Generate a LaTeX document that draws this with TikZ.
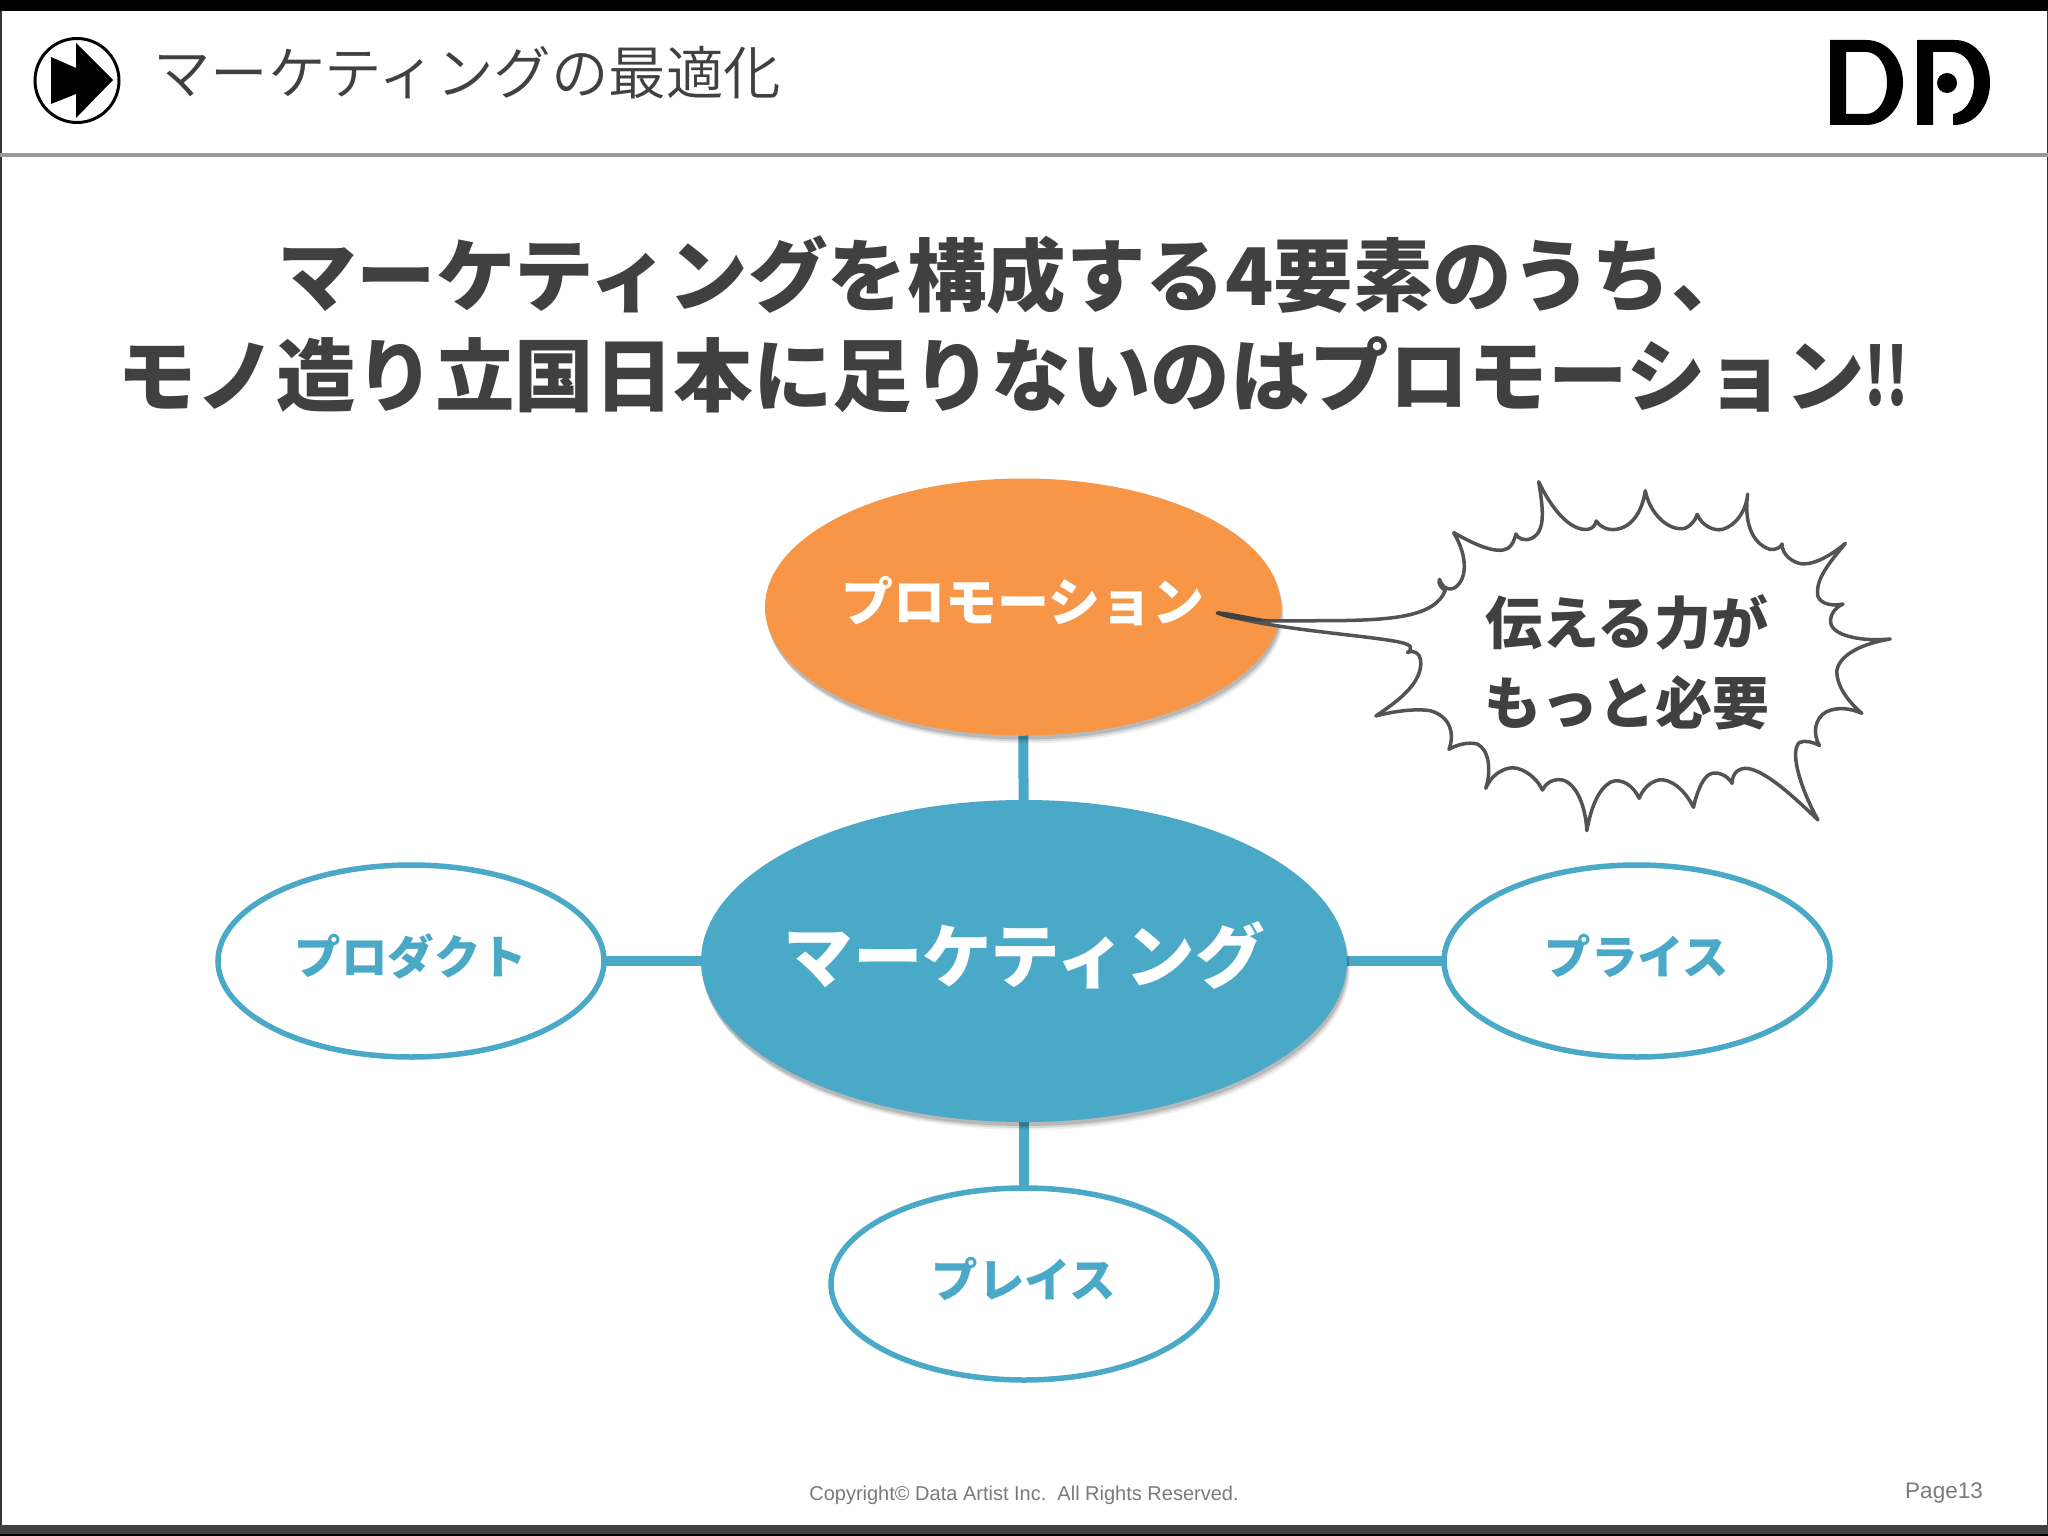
\documentclass[tikz,border=0pt]{standalone}
\usepackage{fontspec}
\setmainfont{Noto Sans CJK JP}
\newfontfamily\thinjp{Noto Sans CJK JP DemiLight}
\newfontfamily\latinf{Liberation Sans}
\usetikzlibrary{shapes.geometric,shadows,backgrounds}
\definecolor{inkc}{HTML}{404040}
\definecolor{teal1}{HTML}{4BA9C8}
\definecolor{orange1}{HTML}{F79646}
\newcommand\szf[1]{\fontsize{#1}{#1}\selectfont}
\newcommand\lifted[2]{\makebox[0pt]{\raisebox{#1}{#2}}}
\tikzset{
  softshadow/.style={drop shadow={shadow xshift=3pt,shadow yshift=-8pt,opacity=.06,fill=black},
                     drop shadow={shadow xshift=2pt,shadow yshift=-6pt,opacity=.10,fill=black},
                     drop shadow={shadow xshift=1pt,shadow yshift=-4pt,opacity=.14,fill=black}},
  hub/.style={ellipse,inner sep=0,outer sep=0,text=white,font=\bfseries},
  leaf/.style={ellipse,draw=teal1,fill=white,line width=5.5pt,inner sep=0,outer sep=0,
     minimum width=386pt,minimum height=192pt,text=teal1,font=\bfseries\szf{46.5}},
  link/.style={draw=teal1,line width=10pt},
  headline/.style={text=inkc,font=\bfseries\szf{79.5},inner sep=0},
  foot/.style={text=black!52,font=\latinf,inner sep=0},
}
\begin{document}
\begin{tikzpicture}[x=1pt,y=-1pt]
\useasboundingbox (0,0) rectangle (2048,1536);
\begin{scope}[on background layer]
\fill[white] (0,0) rectangle (2048,1536);
\end{scope}
% frame
\fill[black] (0,0) rectangle (2048,11);
\fill[black!75!white] (0,1525) rectangle (2048,1534);
\fill[black] (0,1534) rectangle (2048,1536);
\fill[black!80] (0,11) rectangle (1.5,1525);
\fill[black!80] (2046.5,11) rectangle (2048,1525);
\fill[black!40] (0,153) rectangle (2048,157.5);
% header icon
\node[circle,draw=black,line width=3pt,minimum size=84pt,inner sep=0] (icon) at (77,80.5) {};
\fill[black] (51,57) -- (76,68) -- (76,43) -- (113,80) -- (76,118) -- (76,94) -- (51,104) -- cycle;
\node[anchor=west,inner sep=0,text=inkc,font=\thinjp\szf{57.5}] (subject) at (153,73) {マーケティングの最適化};
% logo
\fill[black,even odd rule]
  (1830,40) -- (1866,40) .. controls (1888,40) and (1903,60) .. (1903,82.5)
  .. controls (1903,105) and (1888,125) .. (1866,125) -- (1830,125) -- cycle
  (1846,52) -- (1846,114) -- (1866,114) .. controls (1878,114) and (1887,100) .. (1887,82.5)
  .. controls (1887,65) and (1878,52) .. (1866,52) -- cycle;
\fill[black]
  (1917,40) -- (1955,40) .. controls (1976,40) and (1990,60) .. (1990,82.5)
  .. controls (1990,105) and (1976,125) .. (1954,125) -- (1953,125) -- (1953,114)
  .. controls (1965,112) and (1974,100) .. (1974,82.5)
  .. controls (1974,65) and (1965,52) .. (1952,52) -- (1933,52) -- (1933,125) -- (1917,125) -- cycle;
\node[circle,fill=black,minimum size=20pt,inner sep=0] (logodot) at (1947,83) {};
% headlines
\node[headline] (head1) at (1014,275) {マーケティングを構成する4要素のうち、};
\node[headline] (head2) at (1013,375) {モノ造り立国日本に足りないのはプロモーション\scalebox{.7}[1]{!!}};
% ellipses
\node[hub,softshadow,fill=orange1,minimum width=516pt,minimum height=257pt,font=\bfseries\szf{52}] (promo) at (1023,607) {\lifted{16pt}{プロモーション}};
\node[hub,softshadow,fill=teal1,minimum width=646pt,minimum height=322pt,font=\bfseries\szf{69.5}] (market) at (1024,961) {\lifted{18pt}{マーケティング}};
\node[leaf] (product) at (411,961) {\lifted{13pt}{プロダクト}};
\node[leaf] (price) at (1637,961) {\lifted{13pt}{プライス}};
\node[leaf] (place) at (1024,1284) {\lifted{13pt}{プレイス}};
% connectors
\begin{scope}[on background layer]
\draw[link] (promo) -- (market);
\draw[link] (market) -- (place);
\draw[link] (product) -- (market);
\draw[link] (market) -- (price);
\end{scope}
% burst
\begin{scope}[shift={(1180,460)},xscale=0.4719,yscale=0.3333]
\filldraw[draw=inkc!90!white,fill=white,line width=3.5pt,line join=round]
 (80,458) .. controls (130,490) and (215,482) .. (330,482)
 .. controls (450,480) and (540,470) .. (562,392)
 .. controls (555,385) and (545,370) .. (550,358)
 .. controls (555,380) and (565,392) .. (580,385)
 .. controls (610,360) and (610,290) .. (580,218)
 .. controls (620,250) and (670,285) .. (695,265)
 .. controls (705,255) and (708,240) .. (712,222)
 .. controls (715,235) and (730,245) .. (745,235)
 .. controls (775,215) and (770,150) .. (760,65)
 .. controls (785,140) and (825,215) .. (865,208)
 .. controls (875,205) and (880,195) .. (882,183)
 .. controls (890,200) and (905,212) .. (925,208)
 .. controls (960,200) and (980,150) .. (986,92)
 .. controls (995,160) and (1035,215) .. (1070,205)
 .. controls (1085,195) and (1092,180) .. (1096,163)
 .. controls (1105,195) and (1130,215) .. (1150,208)
 .. controls (1180,195) and (1200,150) .. (1203,102)
 .. controls (1195,180) and (1210,250) .. (1250,268)
 .. controls (1265,270) and (1272,262) .. (1276,252)
 .. controls (1275,285) and (1300,310) .. (1320,312)
 .. controls (1350,312) and (1385,280) .. (1410,250)
 .. controls (1375,310) and (1345,360) .. (1352,410)
 .. controls (1360,435) and (1385,438) .. (1405,432)
 .. controls (1385,445) and (1375,470) .. (1380,495)
 .. controls (1390,530) and (1450,545) .. (1505,537)
 .. controls (1450,550) and (1400,580) .. (1392,630)
 .. controls (1390,680) and (1420,730) .. (1445,760)
 .. controls (1420,745) and (1395,740) .. (1370,755)
 .. controls (1345,775) and (1340,820) .. (1355,857)
 .. controls (1340,845) and (1325,840) .. (1312,848)
 .. controls (1290,880) and (1320,1000) .. (1352,1080)
 .. controls (1300,1010) and (1240,930) .. (1200,925)
 .. controls (1180,925) and (1170,945) .. (1170,970)
 .. controls (1160,945) and (1135,930) .. (1120,945)
 .. controls (1105,960) and (1095,1000) .. (1088,1042)
 .. controls (1070,990) and (1040,955) .. (1015,960)
 .. controls (995,965) and (980,990) .. (973,1015)
 .. controls (960,975) and (935,955) .. (915,965)
 .. controls (885,985) and (870,1050) .. (862,1112)
 .. controls (860,1040) and (840,970) .. (810,960)
 .. controls (790,955) and (775,970) .. (768,990)
 .. controls (755,950) and (720,915) .. (695,925)
 .. controls (670,935) and (655,960) .. (648,985)
 .. controls (660,930) and (655,870) .. (630,852)
 .. controls (610,845) and (585,855) .. (570,868)
 .. controls (582,825) and (575,770) .. (530,752)
 .. controls (495,745) and (450,755) .. (415,768)
 .. controls (460,725) and (515,670) .. (510,600)
 .. controls (508,580) and (495,568) .. (482,578)
 .. controls (495,565) and (490,555) .. (470,548)
 .. controls (400,525) and (190,510) .. (80,458)
 -- cycle;
\fill[inkc] (76,456) .. controls (85,450) and (110,460) .. (190,480)
  .. controls (150,488) and (100,478) .. (76,462) -- cycle;
\end{scope}
\node[inner sep=0,text=inkc,font=\bfseries\szf{57},align=center] (say1) at (1627,622) {伝える力が};
\node[inner sep=0,text=inkc,font=\bfseries\szf{57},align=center] (say2) at (1627,703) {もっと必要};
% footer
\node[foot,font=\latinf\szf{20}] (copy) at (1024,1495.5) {Copyright© Data Artist Inc.\ \ All Rights Reserved.};
\node[foot,font=\latinf\szf{22.5}] (page) at (1944,1493) {Page13};
\end{tikzpicture}
\end{document}
